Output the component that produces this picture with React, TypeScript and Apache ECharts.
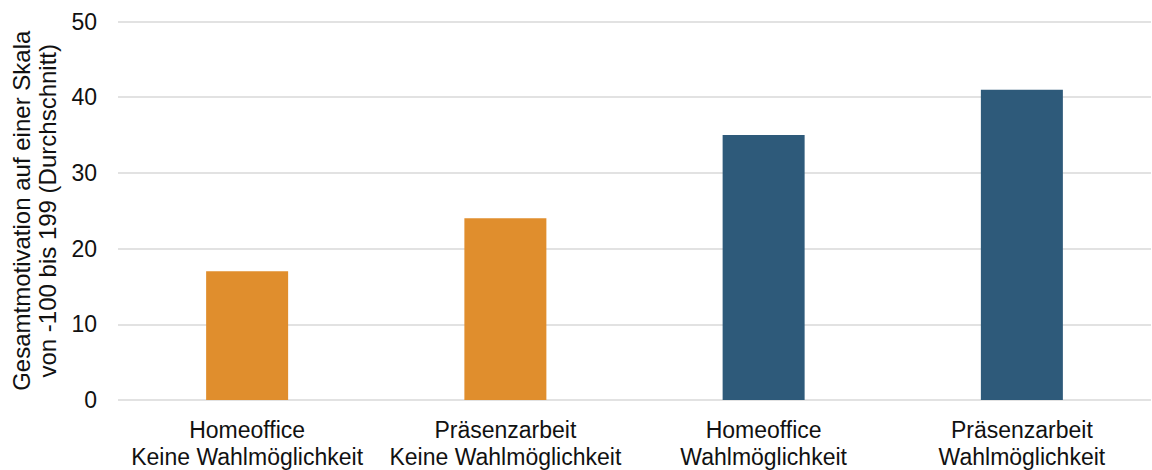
import React, { useEffect, useRef } from "react";
import * as echarts from "echarts";

const categories = [
  "Homeoffice\nKeine Wahlmöglichkeit",
  "Präsenzarbeit\nKeine Wahlmöglichkeit",
  "Homeoffice\nWahlmöglichkeit",
  "Präsenzarbeit\nWahlmöglichkeit",
];
const values = [17, 24, 35, 41];
const barColors = ["#E08E2D", "#E08E2D", "#2E5A7A", "#2E5A7A"];
const axisName = "Gesamtmotivation auf einer Skala\nvon -100 bis 199 (Durchschnitt)";

const FONT = "'Liberation Sans', Arial, sans-serif";

export default function App() {
  const ref = useRef<HTMLDivElement>(null);

  useEffect(() => {
    if (!ref.current) return;
    const chart = echarts.init(ref.current, undefined, { renderer: "svg" });
    chart.setOption({
      animation: false,
      backgroundColor: "#ffffff",
      textStyle: { fontFamily: FONT },
      grid: { left: 118, right: 1, top: 21.5, bottom: 68.5, containLabel: false },
      xAxis: {
        type: "category",
        data: categories,
        axisLine: { show: false },
        axisTick: { show: false },
        axisLabel: {
          color: "#111111",
          fontSize: 23,
          fontFamily: FONT,
          lineHeight: 27,
          margin: 16,
          interval: 0,
        },
      },
      yAxis: {
        type: "value",
        min: 0,
        max: 50,
        interval: 10,
        name: axisName,
        nameLocation: "middle",
        nameGap: 52,
        nameTextStyle: {
          color: "#111111",
          fontSize: 24,
          fontFamily: FONT,
          lineHeight: 26,
        },
        axisLine: { show: false },
        axisTick: { show: false },
        axisLabel: { color: "#111111", fontSize: 23, fontFamily: FONT, margin: 21 },
        splitLine: { lineStyle: { color: "#d9d9d9", width: 1.5 } },
      },
      series: [
        {
          type: "bar",
          barWidth: 82,
          data: values.map((v, i) => ({ value: v, itemStyle: { color: barColors[i] } })),
        },
      ],
    });
    return () => chart.dispose();
  }, []);

  return (
    <div
      ref={ref}
      style={{ position: "fixed", left: 0, top: 0, width: 1152, height: 470 }}
    />
  );
}
